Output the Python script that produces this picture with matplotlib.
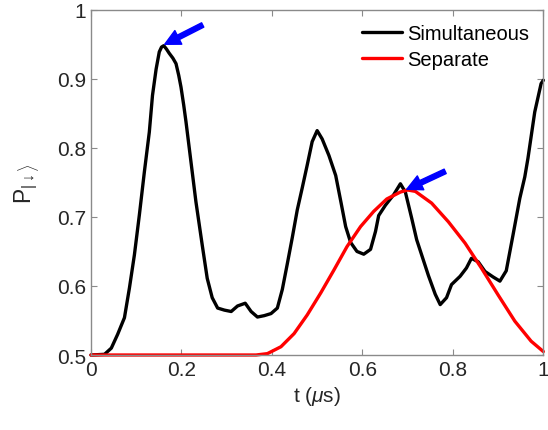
import matplotlib
matplotlib.use("Agg")
import matplotlib.pyplot as plt

plt.rcParams['font.family'] = ['Liberation Sans', 'DejaVu Sans']
plt.rcParams['mathtext.fontset'] = 'custom'
plt.rcParams['mathtext.rm'] = 'Liberation Sans'
plt.rcParams['mathtext.it'] = 'Liberation Sans:italic'

# Simultaneous (black)
t_sim = [0.000, 0.030, 0.045, 0.059, 0.074, 0.085, 0.096, 0.107, 0.118, 0.129,
         0.136, 0.144, 0.151, 0.156, 0.161, 0.167, 0.173, 0.181, 0.188, 0.194,
         0.199, 0.205, 0.210, 0.221, 0.232, 0.246, 0.257, 0.268, 0.280, 0.295,
         0.310, 0.324, 0.341, 0.354, 0.368, 0.383, 0.398, 0.412, 0.423, 0.434,
         0.445, 0.456, 0.467, 0.478, 0.489, 0.500, 0.511, 0.526, 0.541, 0.553,
         0.563, 0.574, 0.588, 0.603, 0.618, 0.629, 0.636, 0.651, 0.669, 0.684,
         0.695, 0.709, 0.720, 0.731, 0.746, 0.761, 0.772, 0.786, 0.797, 0.816,
         0.830, 0.841, 0.856, 0.871, 0.889, 0.904, 0.918, 0.933, 0.948, 0.959,
         0.966, 0.981, 0.995, 1.000]
p_sim = [0.500, 0.501, 0.510, 0.530, 0.554, 0.597, 0.645, 0.703, 0.765, 0.823,
         0.876, 0.914, 0.939, 0.946, 0.948, 0.943, 0.937, 0.930, 0.922, 0.905,
         0.888, 0.862, 0.838, 0.780, 0.722, 0.659, 0.611, 0.583, 0.568, 0.565,
         0.563, 0.571, 0.575, 0.563, 0.555, 0.557, 0.560, 0.568, 0.595, 0.632,
         0.670, 0.710, 0.742, 0.775, 0.809, 0.825, 0.813, 0.789, 0.760, 0.720,
         0.686, 0.663, 0.650, 0.646, 0.653, 0.679, 0.702, 0.717, 0.732, 0.748,
         0.736, 0.698, 0.667, 0.645, 0.615, 0.588, 0.573, 0.583, 0.602, 0.614,
         0.626, 0.640, 0.635, 0.621, 0.613, 0.607, 0.622, 0.674, 0.727, 0.758,
         0.785, 0.852, 0.893, 0.898]

# Separate (red)
t_sep = [0.000, 0.365, 0.390, 0.420, 0.449, 0.478, 0.508, 0.537, 0.566, 0.596,
         0.625, 0.654, 0.684, 0.700, 0.717, 0.753, 0.790, 0.827, 0.863, 0.900,
         0.937, 0.973, 1.000]
p_sep = [0.500, 0.500, 0.502, 0.512, 0.531, 0.558, 0.590, 0.623, 0.657, 0.686,
         0.708, 0.726, 0.736, 0.739, 0.737, 0.720, 0.693, 0.662, 0.626, 0.587,
         0.549, 0.520, 0.505]

series_labels = ['Simultaneous', 'Separate']
x_ticks = [0, 0.2, 0.4, 0.6, 0.8, 1]
x_ticklabels = ['0', '0.2', '0.4', '0.6', '0.8', '1']
y_ticks = [0.5, 0.6, 0.7, 0.8, 0.9, 1]
y_ticklabels = ['0.5', '0.6', '0.7', '0.8', '0.9', '1']

arrow_tips = [(0.163, 0.950), (0.698, 0.740)]
arrow_tails = [(0.247, 0.978), (0.783, 0.766)]

fig = plt.figure(figsize=(5.48, 4.31), dpi=100)
ax = fig.add_axes([0.166, 0.174, 0.8255, 0.801])

ax.plot(t_sim, p_sim, color='black', lw=2.4, label=series_labels[0],
        solid_joinstyle='round', solid_capstyle='round', clip_on=False)
ax.plot(t_sep, p_sep, color='red', lw=2.4, label=series_labels[1],
        solid_joinstyle='round', solid_capstyle='round', clip_on=False)

for tip, tail in zip(arrow_tips, arrow_tails):
    ax.annotate('', xy=tip, xytext=tail,
                arrowprops=dict(facecolor='blue', edgecolor='blue',
                                width=3.5, headwidth=11, headlength=11,
                                shrink=0))

ax.set_xlim(0, 1)
ax.set_ylim(0.5, 1)
ax.set_xticks(x_ticks)
ax.set_xticklabels(x_ticklabels)
ax.set_yticks(y_ticks)
ax.set_yticklabels(y_ticklabels)
ax.tick_params(direction='in', top=True, right=True, length=4, width=0.8,
               colors='#8a8a8a', labelcolor='#262626', labelsize=15)
for s in ax.spines.values():
    s.set_color('#8a8a8a')
    s.set_linewidth(1.0)

ax.set_xlabel(r't ($\mu$s)', fontsize=15, color='#262626', labelpad=4)
ax.set_ylabel(r'P$_{|\downarrow\rangle}$', fontsize=16.5, color='#262626',
              labelpad=11)

leg = ax.legend(loc='upper right', frameon=False, fontsize=14.5,
                handlelength=2.0, handletextpad=0.25, labelspacing=0.35,
                borderaxespad=0.3)

fig.savefig('out.png', dpi=100)
